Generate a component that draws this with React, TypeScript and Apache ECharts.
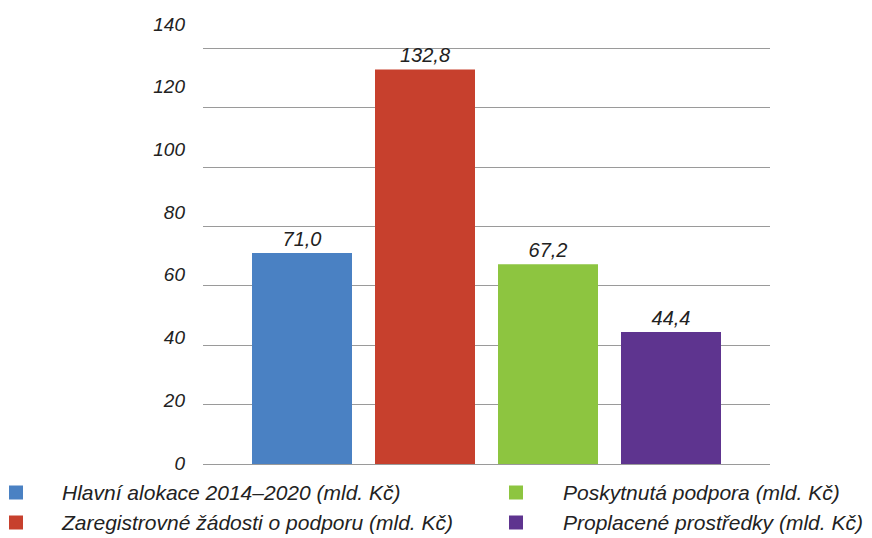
import React, { useEffect, useRef } from "react";
import * as echarts from "echarts";

const seriesNames = [
  "Hlavní alokace 2014–2020 (mld. Kč)",
  "Zaregistrovné žádosti o podporu (mld. Kč)",
  "Poskytnutá podpora (mld. Kč)",
  "Proplacené prostředky (mld. Kč)",
];
const seriesValues = [71.0, 132.8, 67.2, 44.4];
const seriesColors = ["#4a81c3", "#c7402d", "#8dc540", "#5e348f"];
const categories = [""];

const FONT = "'Liberation Sans', Arial, sans-serif";
const TXT = "#222222";

export default function App() {
  const ref = useRef<HTMLDivElement>(null);
  useEffect(() => {
    if (!ref.current) return;
    const chart = echarts.init(ref.current, undefined, { renderer: "svg" });
    const textStyle = {
      fontFamily: FONT,
      fontStyle: "italic",
      fontSize: 19,
      color: TXT,
    };
    const legendText = { ...textStyle, fontSize: 21 };
    chart.setOption({
      animation: false,
      grid: [
        { left: 203, right: 102, top: 48, bottom: 74 },
        { left: 203, right: 102, top: 24, bottom: 75 },
      ],
      legend: [
        {
          data: seriesNames.slice(0, 2),
          orient: "vertical",
          left: 9,
          top: 482,
          padding: 0,
          itemWidth: 14,
          itemHeight: 14,
          itemGap: 9,
          icon: "rect",
          textStyle: { ...legendText, padding: [0, 0, 0, 34] },
        },
        {
          data: seriesNames.slice(2, 4),
          orient: "vertical",
          left: 509,
          top: 482,
          padding: 0,
          itemWidth: 14,
          itemHeight: 14,
          itemGap: 9,
          icon: "rect",
          textStyle: { ...legendText, padding: [0, 0, 0, 35] },
        },
      ],
      xAxis: [
        {
          type: "category",
          data: categories,
          gridIndex: 0,
          axisLine: { show: false },
          axisTick: { show: false },
          axisLabel: { show: false },
        },
        {
          type: "category",
          data: categories,
          gridIndex: 1,
          show: false,
        },
      ],
      yAxis: [
        {
          type: "value",
          gridIndex: 0,
          min: 0,
          max: 140,
          interval: 20,
          axisLabel: { show: false },
          axisLine: { show: false },
          axisTick: { show: false },
          splitLine: { lineStyle: { color: "#9a9a9a", width: 1 } },
        },
        {
          type: "value",
          gridIndex: 1,
          min: 0,
          max: 140,
          interval: 20,
          axisLine: { show: false },
          axisTick: { show: false },
          splitLine: { show: false },
          axisLabel: { ...textStyle, margin: 18 },
        },
      ],
      series: seriesNames.map((name, i) => ({
        type: "bar",
        name,
        xAxisIndex: 0,
        yAxisIndex: 0,
        barWidth: 100,
        barGap: "23%",
        data: [seriesValues[i]],
        itemStyle: { color: seriesColors[i] },
        label: {
          show: true,
          position: "top",
          distance: 4,
          ...textStyle,
          fontSize: 20,
          formatter: (p: any) => p.value.toFixed(1).replace(".", ","),
        },
      })),
    });
    return () => chart.dispose();
  }, []);
  return <div ref={ref} style={{ width: 872, height: 538, position: "absolute", left: 0, top: 0 }} />;
}
